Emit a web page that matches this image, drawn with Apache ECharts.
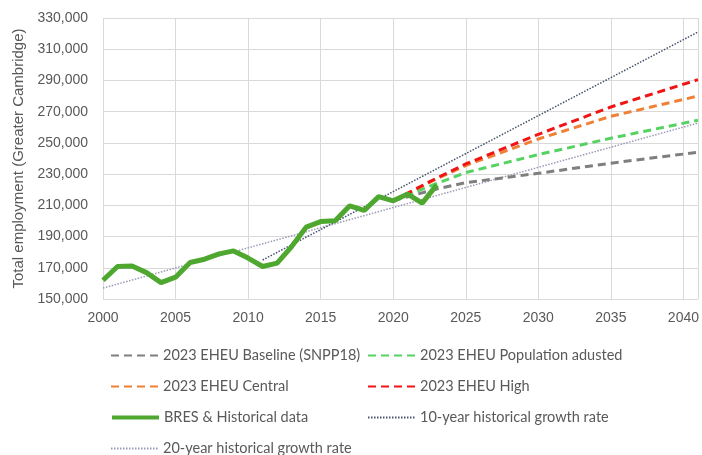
<!DOCTYPE html>
<html>
<head>
<meta charset="utf-8">
<script src="https://cdn.jsdelivr.net/npm/echarts@6/dist/echarts.min.js"></script>
<style>
  html, body { margin: 0; padding: 0; background: #fff; }
  #chart { width: 702px; height: 455px; }
</style>
</head>
<body>
<div id="chart"></div>
<script>
// historical employment (BRES)
const histYears = [2000, 2001, 2002, 2003, 2004, 2005, 2006, 2007, 2008, 2009, 2010, 2011,
                   2012, 2013, 2014, 2015, 2016, 2017, 2018, 2019, 2020, 2021, 2022, 2023];
const histValues = [162000, 170800, 171200, 166900, 160500, 164000, 173400, 175500, 178900, 180800, 176200, 170800,
                    173000, 183600, 196000, 199600, 200100, 209700, 206700, 215600, 212900, 217200, 211400, 223100];

// 2023 EHEU projections
const projYears   = [2020, 2023, 2025, 2030, 2035, 2041];
const baseline    = [213000, 220500, 224500, 230500, 237000, 244000];
const popAdjusted = [213000, 224000, 231000, 242500, 253000, 264500];
const central     = [213000, 227000, 235500, 252500, 267000, 280000];
const high        = [213000, 227500, 236500, 255500, 273000, 290500];

// historical growth trend lines
const trend10Years = [2011, 2041];
const trend10      = [175000, 321000];
const trend20Years = [2000, 2041];
const trend20      = [157000, 262700];

const yTicks = { min: 150000, max: 330000, step: 20000 };
const xTicks = { min: 2000, max: 2041, step: 5 };

const pairs = (xs, ys) => xs.map((x, i) => [x, ys[i]]);
const fmt = v => String(v).replace(/\B(?=(\d{3})+(?!\d))/g, ',');

const chart = echarts.init(document.getElementById('chart'));

const legendBase = {
  itemWidth: 47,
  itemHeight: 14,
  itemGap: 0,
  padding: 0,
  itemStyle: { opacity: 0 },
  textStyle: { color: '#595959', fontSize: 14.5, fontFamily: 'Lato' },
  selectedMode: false
};
function legendAt(name, left, top, extra) {
  return Object.assign({}, legendBase, { data: [name], left: left, top: top }, extra || {});
}

const mkLine = (name, data, color, width, type, z) => ({
  name: name,
  type: 'line',
  data: data,
  symbol: 'none',
  smooth: false,
  z: z,
  lineStyle: { color: color, width: width, type: type },
  itemStyle: { color: color },
  emphasis: { disabled: true }
});

chart.setOption({
  animation: false,
  backgroundColor: '#ffffff',
  grid: { left: 103, right: 0, top: 18, bottom: 156, containLabel: false },
  legend: [
    legendAt('2023 EHEU Baseline (SNPP18)', 110, 348),
    legendAt('2023 EHEU Population adusted', 367, 348),
    legendAt('2023 EHEU Central', 110, 379),
    legendAt('2023 EHEU High', 367, 379),
    legendAt('BRES & Historical data', 110, 410, { lineStyle: { width: 4 } }),
    legendAt('10-year historical growth rate', 367, 410),
    legendAt('20-year historical growth rate', 110, 441)
  ],
  xAxis: {
    type: 'value',
    min: xTicks.min,
    max: xTicks.max,
    interval: xTicks.step,
    axisLine: { show: false },
    axisTick: { show: false },
    axisLabel: {
      color: '#595959', fontSize: 14, fontFamily: 'Liberation Sans', margin: 12,
      showMaxLabel: false,
      formatter: v => (v % 5 === 0 ? String(v) : '')
    },
    splitLine: { show: true, lineStyle: { color: '#d9d9d9', width: 1 } }
  },
  yAxis: {
    type: 'value',
    min: yTicks.min,
    max: yTicks.max,
    interval: yTicks.step,
    name: 'Total employment (Greater Cambridge)',
    nameLocation: 'middle',
    nameGap: 77,
    nameTextStyle: { color: '#595959', fontSize: 15, fontFamily: 'Liberation Sans' },
    axisLine: { show: false },
    axisTick: { show: false },
    axisLabel: { color: '#595959', fontSize: 14, fontFamily: 'Liberation Sans', margin: 15, formatter: fmt },
    splitLine: { show: true, lineStyle: { color: '#d9d9d9', width: 1 } }
  },
  series: [
    mkLine('20-year historical growth rate', pairs(trend20Years, trend20), '#9a9ab8', 1.5, [1.5, 1.5], 1),
    mkLine('10-year historical growth rate', pairs(trend10Years, trend10), '#44546a', 1.5, [1.5, 1.5], 2),
    mkLine('2023 EHEU Baseline (SNPP18)', pairs(projYears, baseline), '#7f7f7f', 3, [8, 5], 3),
    mkLine('2023 EHEU Population adusted', pairs(projYears, popAdjusted), '#55d260', 3, [8, 5], 3),
    mkLine('2023 EHEU Central', pairs(projYears, central), '#f08035', 3, [8, 5], 3),
    mkLine('2023 EHEU High', pairs(projYears, high), '#f01414', 3, [8, 5], 4),
    mkLine('BRES & Historical data', pairs(histYears, histValues), '#4ea72e', 5, 'solid', 5)
  ]
});
</script>
</body>
</html>
